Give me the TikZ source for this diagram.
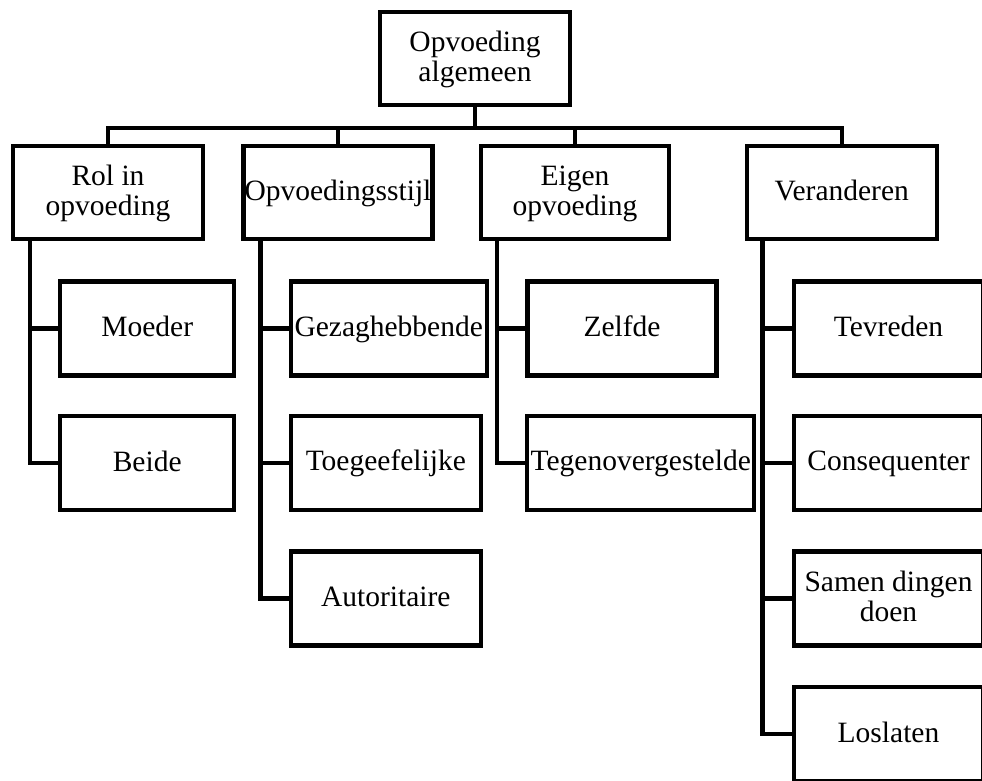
\documentclass[tikz,border=0pt]{standalone}
\usepackage{fontspec}
\setmainfont{Liberation Serif}
\usetikzlibrary{calc}
\newcommand{\bstr}{\rule[-6pt]{0pt}{28pt}}
\begin{document}
\begin{tikzpicture}[x=1pt,y=-1pt,
  box/.style={draw=black,line width=4.4pt,rectangle,inner sep=0pt,align=center,
    font=\fontsize{29.5}{30}\selectfont,minimum height=94pt},
  conn/.style={draw=black,line width=4.4pt}]
\useasboundingbox (0,0) rectangle (982,781);
\clip (0,0) rectangle (982,781);
% root
\node[box,minimum width=190pt,minimum height=93pt] (root) at (475,58.5) {\bstr Opvoeding\\\bstr algemeen};
% level 1
\node[box,minimum width=190pt,minimum height=93pt] (rol) at (108,192.4) {\bstr Rol in\\\bstr opvoeding};
\node[box,minimum width=189pt,minimum height=93pt] (stijl) at (338,192.4) {\bstr Opvoedingsstijl};
\node[box,minimum width=188pt,minimum height=93pt] (eigen) at (575,192.4) {\bstr Eigen\\\bstr opvoeding};
\node[box,minimum width=190pt,minimum height=93pt] (ver) at (841.7,192.4) {\bstr Veranderen};
% level 2: Rol
\node[box,minimum width=174pt] (moeder) at (147.2,328.5) {\bstr Moeder};
\node[box,minimum width=174pt] (beide) at (147.2,463) {\bstr Beide};
% level 2: Opvoedingsstijl
\node[box,minimum width=196pt] (gezag) at (388.7,328.5) {\bstr Gezaghebbende};
\node[box,minimum width=190pt] (toeg) at (385.8,463) {\bstr Toegeefelijke};
\node[box,minimum width=190pt] (auto) at (385.8,598.3) {\bstr Autoritaire};
% level 2: Eigen opvoeding
\node[box,minimum width=189pt] (zelf) at (622,328.5) {\bstr Zelfde};
\node[box,minimum width=227pt] (tegen) at (640.7,463) {\bstr Tegenovergestelde};
% level 2: Veranderen
\node[box,minimum width=189pt] (tevr) at (888.5,328.5) {\bstr Tevreden};
\node[box,minimum width=189pt] (cons) at (888.5,463) {\bstr Consequenter};
\node[box,minimum width=189pt] (samen) at (888.5,598.3) {\bstr Samen dingen\\\bstr doen};
\node[box,minimum width=189pt] (los) at (888.5,734) {\bstr Loslaten};
% top connectors
\coordinate (bus) at ($(root.south)+(0,20.7)$);
\draw[conn] (root.south) -- (bus);
\draw[conn] (rol.north) |- (bus);
\draw[conn] (stijl.north) |- (bus);
\draw[conn] (eigen.north) |- (bus);
\draw[conn] (ver.north) |- (bus);
% branch connectors
\coordinate (rolx) at ($(rol.south west)+(19,0)$);
\draw[conn] (rolx) |- (moeder.west);
\draw[conn] (rolx) |- (beide.west);
\coordinate (stijlx) at ($(stijl.south west)+(19,0)$);
\draw[conn] (stijlx) |- (gezag.west);
\draw[conn] (stijlx) |- (toeg.west);
\draw[conn] (stijlx) |- (auto.west);
\coordinate (eigenx) at ($(eigen.south west)+(18,0)$);
\draw[conn] (eigenx) |- (zelf.west);
\draw[conn] (eigenx) |- (tegen.west);
\coordinate (verx) at ($(ver.south west)+(18,0)$);
\draw[conn] (verx) |- (tevr.west);
\draw[conn] (verx) |- (cons.west);
\draw[conn] (verx) |- (samen.west);
\draw[conn] (verx) |- (los.west);
\end{tikzpicture}
\end{document}
